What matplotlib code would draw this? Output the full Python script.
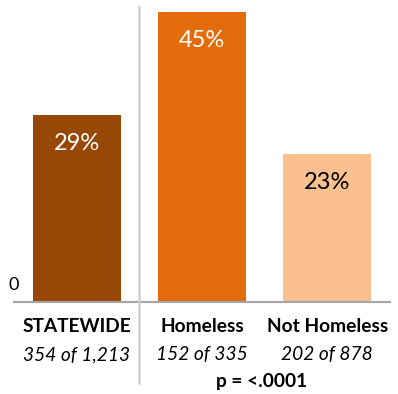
import matplotlib
matplotlib.use("Agg")
import matplotlib.pyplot as plt
from matplotlib.lines import Line2D

categories = ["STATEWIDE", "Homeless", "Not Homeless"]
counts = ["354 of 1,213", "152 of 335", "202 of 878"]
values = [29, 45, 23]
colors = ["#974807", "#E36C0A", "#FAC090"]
label_colors = ["white", "white", "black"]
pval = "p = <.0001"

plt.rcParams['font.family'] = ['Lato', 'DejaVu Sans']

W, H = 398, 394
fig = plt.figure(figsize=(W/100, H/100), dpi=100)
ax = fig.add_axes([14/W, (H-302)/H, (390-14)/W, (302-4)/H])
x = list(range(len(values)))
ax.bar(x, values, width=0.70, color=colors, zorder=2)
ax.set_xlim(-0.5, 2.5)
ax.set_ylim(0, 46.2)
for s in ["top", "right", "left"]:
    ax.spines[s].set_visible(False)
ax.spines["bottom"].set_color("#A6A6A6")
ax.spines["bottom"].set_linewidth(1.5)
ax.set_xticks([])
ax.set_yticks([])

for xi, v, lc in zip(x, values, label_colors):
    ax.text(xi, v - 4.5, f"{v}%", ha="center", va="center", color=lc, fontsize=17)

# "0" label
fig.text(14/W, 1 - 285/H, "0", ha="center", va="center", fontsize=13, color="#000000")

# separator line
fig.add_artist(Line2D([139/W, 139/W], [1 - 7/H, 1 - 383/H], color="#CFCFCF", lw=1.8))

for xi, c, n in zip(x, categories, counts):
    xp = ax.transData.transform((xi, 0))[0]
    fig.text(xp/W, 1 - 327/H, c, ha="center", va="center", fontsize=13.8, fontweight="bold")
    fig.text(xp/W, 1 - 355/H, n, ha="center", va="center", fontsize=13.8, style="italic")

fig.text(262/W, 1 - 382/H, pval, ha="center", va="center", fontsize=13.8, fontweight="bold")

fig.savefig("out.png", dpi=100)
